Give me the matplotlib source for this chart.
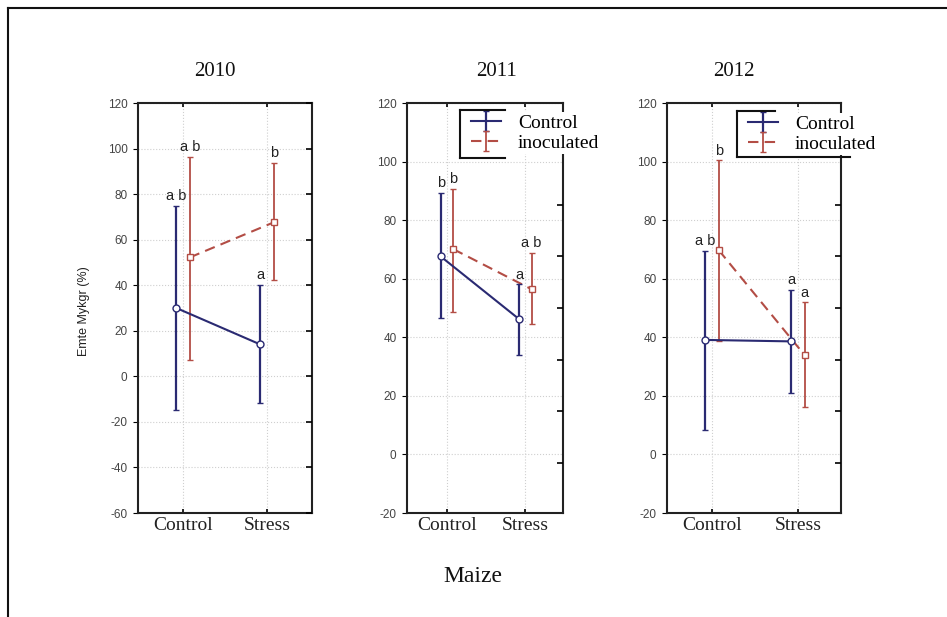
import matplotlib
matplotlib.use('Agg')
import matplotlib.pyplot as plt
from matplotlib.lines import Line2D
import numpy as np

# ---------------- data ----------------
years = ['2010', '2011', '2012']
conditions = ['Control', 'Stress']
series_names = ['Control', 'inoculated']

ctrl_mean = [[30.0, 14.0], [67.6, 46.2], [39.1, 38.6]]
ctrl_low = [[-14.8, -11.6], [46.5, 33.8], [8.5, 20.9]]
ctrl_high = [[75.0, 40.2], [89.3, 58.1], [69.6, 56.2]]

inoc_mean = [[52.2, 67.6], [70.1, 56.4], [69.7, 33.8]]
inoc_low = [[7.0, 42.1], [48.8, 44.6], [38.6, 16.1]]
inoc_high = [[96.4, 93.8], [90.7, 68.8], [100.4, 51.9]]

ctrl_letters = [['a b', 'a'], ['b', 'a'], ['a b', 'a']]
inoc_letters = [['a b', 'b'], ['b', 'a b'], ['b', 'a']]

y_limits = [(-60, 120), (-20, 120), (-20, 120)]
y_ticks = [list(range(-60, 121, 20)), list(range(-20, 121, 20)), list(range(-20, 121, 20))]

x_label = 'Maize'
y_label = 'Emte Mykgr (%)'

# ---------------- style ----------------
W, H = 947, 617
fig = plt.figure(figsize=(W / 100, H / 100), dpi=100)
fig.patch.set_facecolor('white')

SERIF = ['Liberation Serif', 'DejaVu Serif']
SANS = ['Liberation Sans', 'DejaVu Sans']
BLUE = '#2a2a72'
RED = '#b34d45'

# axes rectangles in pixels (left, top, right, bottom)
rects_px = [(138, 103, 312, 513), (407, 103, 563, 513), (667, 103, 841, 513)]
xlims = [(-0.536, 1.536), (-0.51, 1.48), (-0.523, 1.5)]
title_pos = [(215, 71), (496, 71), (734, 71)]
show_legend = [False, True, True]
legend_box = [None, (460, 110, 505, 158, 505), (737, 111, 775, 157, 850)]
right_tick_mode = ['same', 'odd', 'odd']
off = 0.08


def px2fig(x, y):
    return x / W, 1 - y / H


for i, yr in enumerate(years):
    l, t, r, b = rects_px[i]
    ax = fig.add_axes([l / W, 1 - b / H, (r - l) / W, (b - t) / H])
    xs = np.arange(len(conditions))
    ax.set_xlim(*xlims[i])
    ax.set_ylim(*y_limits[i])

    cm = np.array(ctrl_mean[i]); cl = np.array(ctrl_low[i]); ch = np.array(ctrl_high[i])
    im = np.array(inoc_mean[i]); il = np.array(inoc_low[i]); ih = np.array(inoc_high[i])

    e1 = ax.errorbar(xs - off, cm, yerr=[cm - cl, ch - cm], color=BLUE, lw=1.5,
                     elinewidth=1.6, capsize=2.5, capthick=1.3, marker='o', ms=5,
                     mfc='white', mec=BLUE, mew=1.0, ls='-', label=series_names[0], zorder=4)
    e2 = ax.errorbar(xs + off, im, yerr=[im - il, ih - im], color=RED, lw=1.5,
                     elinewidth=1.3, capsize=2.5, capthick=1.2, marker='s', ms=5,
                     mfc='white', mec=RED, mew=1.0, ls=(0, (5, 3)), label=series_names[1], zorder=3)

    for j in range(len(conditions)):
        ax.annotate(ctrl_letters[i][j], (xs[j] - off, ch[j]), xytext=(0, 2),
                    textcoords='offset points', ha='center', va='bottom',
                    fontsize=10.5, family=SANS, color='#222222')
        ax.annotate(inoc_letters[i][j], (xs[j] + off, ih[j]), xytext=(0, 2),
                    textcoords='offset points', ha='center', va='bottom',
                    fontsize=10.5, family=SANS, color='#222222')

    ax.set_xticks(xs)
    ax.set_xticklabels(conditions, family=SERIF, fontsize=14, color='#222222')
    ax.set_yticks(y_ticks[i])
    ax.set_yticklabels([str(v) for v in y_ticks[i]], family=SANS, fontsize=8.5, color='#444444')
    ax.tick_params(axis='y', left=False, right=False, pad=4)
    ax.tick_params(axis='x', direction='in', length=3, width=1.2, top=True, bottom=True, pad=3)
    ax.grid(True, color='#cfcfcf', lw=0.8, ls=':')
    ax.set_axisbelow(True)
    for s in ax.spines.values():
        s.set_linewidth(1.5)
        s.set_color('#222222')

    # right-side ticks
    ax2 = ax.twinx()
    ax2.set_ylim(*y_limits[i])
    if right_tick_mode[i] == 'same':
        rt = y_ticks[i]
    else:
        rt = list(np.arange(-2.8, 120, 17.6))
    ax2.set_yticks(rt)
    ax2.tick_params(axis='y', direction='in', length=4, width=1.2, labelright=False)
    for s in ax2.spines.values():
        s.set_visible(False)

    fx, fy = px2fig(*title_pos[i])
    fig.text(fx, fy, yr, ha='center', va='center', family=SERIF, fontsize=15, color='#111111')

    if show_legend[i]:
        bl, bt, bhr, bb, bbr = legend_box[i]
        lx, ly = px2fig(bl + 9, bt + 2)
        leg = ax2.legend(handles=[e1, e2], loc='upper left', bbox_to_anchor=(lx, ly),
                         bbox_transform=fig.transFigure, frameon=True, fancybox=False,
                         facecolor='white', edgecolor='none', framealpha=1,
                         prop={'family': SERIF, 'size': 14}, handlelength=1.5,
                         handletextpad=0.9, borderpad=0.12, labelspacing=0.12,
                         borderaxespad=0, markerscale=0.01)
        leg.set_zorder(10)
        # partial box lines
        p0 = px2fig(bl, bt); p1 = px2fig(bhr, bt); p2 = px2fig(bl, bb); p3 = px2fig(bbr, bb)
        fig.add_artist(Line2D([p0[0], p1[0]], [p0[1], p1[1]], color='#111111', lw=1.5))
        fig.add_artist(Line2D([p0[0], p2[0]], [p0[1], p2[1]], color='#111111', lw=1.5))
        fig.add_artist(Line2D([p2[0], p3[0]], [p2[1], p3[1]], color='#111111', lw=1.5))

    if i == 0:
        fig.text(84 / W, 1 - 311 / H, y_label, rotation=90, ha='center', va='center',
                 family=SANS, fontsize=9, color='#222222')

fig.text(473 / W, 1 - 576 / H, x_label, ha='center', va='center', family=SERIF,
         fontsize=17, color='#111111')

# outer border (top and left edges visible)
fig.add_artist(Line2D([8 / W, 1.0], [1 - 8 / H, 1 - 8 / H], color='#111111', lw=1.5))
fig.add_artist(Line2D([8 / W, 8 / W], [1 - 8 / H, 0.0], color='#111111', lw=1.5))

fig.savefig('out.png', dpi=100)
